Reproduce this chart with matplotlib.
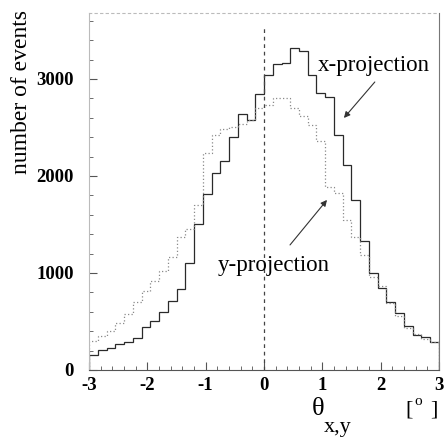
import matplotlib
matplotlib.use("Agg")
import matplotlib.pyplot as plt
from matplotlib.ticker import MultipleLocator, FixedLocator

plt.rcParams['axes.unicode_minus'] = False
plt.rcParams['font.family'] = ['Liberation Serif', 'DejaVu Serif']

bin_edges = [-3.0, -2.85, -2.7, -2.55, -2.4, -2.25, -2.1, -1.95, -1.8, -1.65,
             -1.5, -1.35, -1.2, -1.05, -0.9, -0.75, -0.6, -0.45, -0.3, -0.15,
             0.0, 0.15, 0.3, 0.45, 0.6, 0.75, 0.9, 1.05, 1.2, 1.35,
             1.5, 1.65, 1.8, 1.95, 2.1, 2.25, 2.4, 2.55, 2.7, 2.85, 3.0]

x_projection = [155, 206, 227, 270, 290, 330, 440, 508, 600, 714,
                830, 1100, 1500, 1812, 2034, 2155, 2400, 2640, 2577, 2845,
                3040, 3150, 3160, 3320, 3290, 3040, 2855, 2815, 2420, 2113,
                1753, 1330, 1000, 845, 700, 590, 455, 360, 345, 285]

y_projection = [300, 350, 400, 480, 580, 700, 815, 918, 1020, 1165,
                1370, 1450, 1700, 2237, 2420, 2480, 2500, 2540, 2577, 2700,
                2730, 2800, 2800, 2700, 2620, 2525, 2360, 1887, 1820, 1550,
                1370, 1185, 960, 870, 690, 557, 430, 370, 320, 290]

x_ticks = [-3, -2, -1, 0, 1, 2, 3]
x_tick_labels = ['-3', '-2', '-1', '0', '1', '2', '3']
y_ticks = [0, 1000, 2000, 3000]
y_tick_labels = ['0', '1000', '2000', '3000']

fig = plt.figure(figsize=(4.44, 4.38), dpi=100)
ax = fig.add_axes([0.2005, 0.1553, 0.7882, 0.815])

ax.stairs(x_projection, bin_edges, color='#2a2a2a', linewidth=0.9)
ax.stairs(y_projection, bin_edges, color='#8a8a8a', linewidth=0.9,
          linestyle=(0, (1, 1.8)))

ax.plot([0, 0], [0, 3560], color='#444444', linewidth=0.9,
        linestyle=(0, (3, 3)))

ax.set_xlim(-3, 3)
ax.set_ylim(0, 3680)

ax.xaxis.set_major_locator(FixedLocator(x_ticks))
ax.set_xticklabels(x_tick_labels)
ax.xaxis.set_minor_locator(MultipleLocator(0.2))
ax.yaxis.set_major_locator(FixedLocator(y_ticks))
ax.set_yticklabels(y_tick_labels)
ax.yaxis.set_minor_locator(MultipleLocator(200))

ax.tick_params(which='both', direction='in', colors='#555555',
               labelcolor='black', top=False, right=False)
ax.tick_params(which='major', length=6, width=0.8)
ax.tick_params(which='minor', length=3, width=0.6)
ax.tick_params(axis='y', which='major', pad=11)
ax.tick_params(axis='x', which='major', pad=5)
for lab in ax.get_xticklabels() + ax.get_yticklabels():
    lab.set_fontweight('bold')
    lab.set_fontsize(13.5)

for side, col in [('left', '#bbbbbb'), ('top', '#bbbbbb'),
                  ('bottom', '#555555'), ('right', '#777777')]:
    ax.spines[side].set_color(col)
    ax.spines[side].set_linewidth(0.8)
ax.spines['top'].set_linestyle((0, (2, 3)))

ax.set_ylabel('number of events', fontsize=17)
ax.yaxis.set_label_coords(-0.162, 0.78)

ax.text(0.926, 3140, 'x-projection', fontsize=16.5, va='center', ha='left')
ax.text(-0.79, 1082, 'y-projection', fontsize=16.5, va='center', ha='left')

arrow_style = dict(arrowstyle='-|>', color='#333333', lw=0.8,
                   mutation_scale=9, shrinkA=0, shrinkB=0)
ax.annotate('', xy=(1.37, 2598), xytext=(1.90, 2969), arrowprops=arrow_style)
ax.annotate('', xy=(1.08, 1753), xytext=(0.446, 1289), arrowprops=arrow_style)

fig.text(0.703, 0.066, 'θ', fontsize=19, ha='left', va='center')
fig.text(0.730, 0.025, 'x,y', fontsize=16, ha='left', va='center')
fig.text(0.912, 0.064, '[', fontsize=16, ha='left', va='center')
fig.text(0.941, 0.083, 'o', fontsize=11, ha='center', va='center')
fig.text(0.970, 0.064, ']', fontsize=16, ha='left', va='center')

fig.savefig('out.png', dpi=100)
